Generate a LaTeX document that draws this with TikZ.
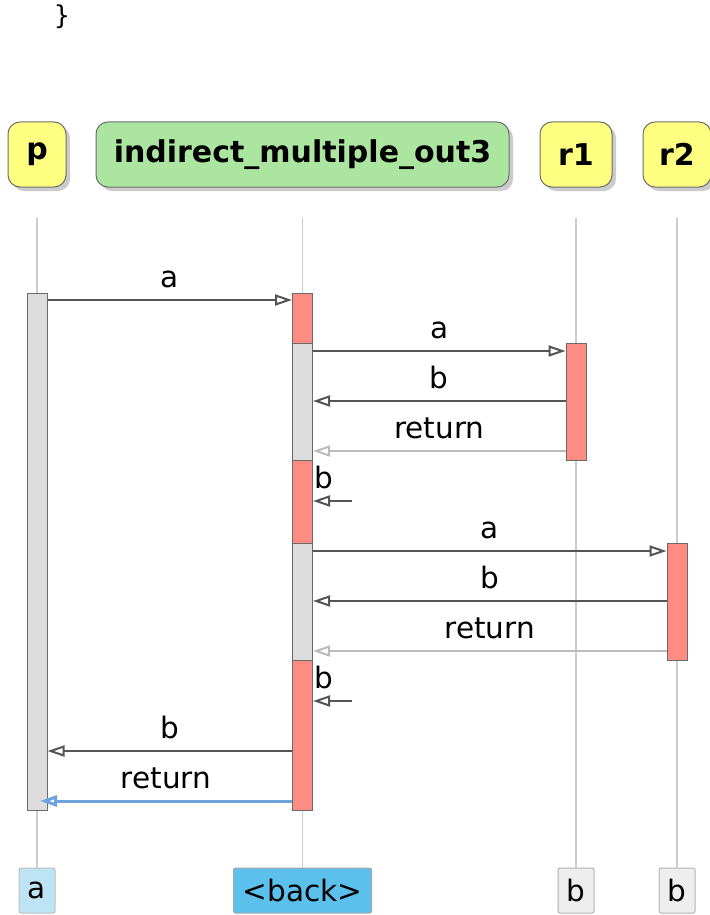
\documentclass[tikz,border=0pt]{standalone}
\usepackage{fontspec}
\setmainfont{DejaVu Sans}
\setmonofont{DejaVu Sans Mono}
\usepackage{xcolor}
\usetikzlibrary{positioning,arrows.meta,shadows,backgrounds}

\definecolor{kopfGelb}{HTML}{FEFE80}
\definecolor{kopfGruen}{HTML}{ABE5A0}
\definecolor{kopfRand}{HTML}{6E6E6E}
\definecolor{balkenRot}{HTML}{FF8C82}
\definecolor{balkenGrau}{HTML}{DDDDDD}
\definecolor{balkenRand}{HTML}{6A6A6A}
\definecolor{pfeilGrau}{HTML}{555555}
\definecolor{rueckGrau}{HTML}{BBBBBB}
\definecolor{rueckBlau}{HTML}{6FA3DE}
\definecolor{linieGrau}{HTML}{CCCCCC}
\definecolor{fussHell}{HTML}{BEE3F4}
\definecolor{fussBlau}{HTML}{5BC0EB}
\definecolor{fussGrau}{HTML}{EEEEEE}

\begin{document}
\begin{tikzpicture}[x=1pt, y=-1pt, node distance=30pt,
    every node/.style={font=\fontsize{29.5}{34}\selectfont},
    kopf/.style={draw=kopfRand, line width=1pt, rounded corners=12pt, minimum height=65pt, inner sep=0pt,
        font=\fontsize{30}{35}\selectfont\bfseries,
        drop shadow={shadow xshift=4pt, shadow yshift=-4pt, fill=black!40, opacity=.5}},
    fuss/.style={draw=black!30, line width=1pt, rounded corners=2pt, minimum height=45pt, minimum width=36pt, inner sep=2pt},
    balken/.style={draw=balkenRand, line width=1pt, minimum width=20pt, inner sep=0pt},
    lebenslinie/.style={draw=linieGrau, line width=1.3pt},
    nachricht/.style={draw=pfeilGrau, line width=2pt, -{Triangle[open, length=17pt, width=11pt]}},
    rueckgabe/.style={nachricht, draw=rueckGrau},
    beschriftung/.style={above=11pt, inner sep=0pt}]

    \useasboundingbox (0,0) rectangle (709,915);
    \fill[white] (0,0) rectangle (709,915);

    % Rest oben
    \node[font=\fontsize{26}{30}\selectfont\ttfamily] (klammer) at (62,17) {\}};

    % Teilnehmer
    \node[kopf, fill=kopfGelb, minimum width=58pt] (p) at (37,154.5) {p};
    \node[kopf, fill=kopfGruen, minimum width=413pt, right=29pt of p] (ind) {indirect\_multiple\_out3};
    \node[kopf, fill=kopfGelb, minimum width=72pt, right=30pt of ind] (r1) {r1};
    \node[kopf, fill=kopfGelb, minimum width=68pt, right=30pt of r1] (r2) {r2};

    % Fusszeile
    \node[fuss, fill=fussHell, draw=black!25] (pFuss) at (p |- 0,890.5) {a};
    \node[fuss, fill=fussBlau, draw=black!35, minimum width=138pt] (indFuss) at (ind |- 0,890.5) {<back>};
    \node[fuss, fill=fussGrau] (r1Fuss) at (r1 |- 0,890.5) {b};
    \node[fuss, fill=fussGrau] (r2Fuss) at (r2 |- 0,890.5) {b};

    % Lebenslinien
    \foreach \k in {p, ind, r1, r2} {
        \draw[lebenslinie] ([yshift=-30pt]\k.south) -- (\k Fuss.north);
    }

    % Aktivierungen
    \node[balken, fill=balkenGrau, minimum height=517pt] (pAkt) at (p |- 0,551.5) {};
    \node[balken, fill=balkenRot, minimum height=517pt] (indAkt) at (ind |- 0,551.5) {};
    \node[balken, fill=balkenGrau, minimum height=117pt] (indAktA) at (ind |- 0,401.5) {};
    \node[balken, fill=balkenGrau, minimum height=117pt] (indAktB) at (ind |- 0,601.5) {};
    \node[balken, fill=balkenRot, minimum height=117pt] (r1Akt) at (r1 |- 0,401.5) {};
    \node[balken, fill=balkenRot, minimum height=117pt] (r2Akt) at (r2 |- 0,601.5) {};

    % Nachrichten
    \draw[nachricht] (pAkt.east |- 0,300) -- node[beschriftung] (m1) {a} (indAkt.west |- 0,300);
    \draw[nachricht] (indAktA.east |- 0,351) -- node[beschriftung] (m2) {a} (r1Akt.west |- 0,351);
    \draw[nachricht] (r1Akt.west |- 0,401) -- node[beschriftung] (m3) {b} (indAktA.east |- 0,401);
    \draw[rueckgabe] (r1Akt.west |- 0,451) -- node[beschriftung] (m4) {return} (indAktA.east |- 0,451);

    \coordinate (selbstA) at (352,501);
    \draw[nachricht] (selbstA) -- (indAkt.east |- selbstA);
    \node[anchor=base west, inner sep=1pt] (m5) at (indAkt.east |- 0,488) {b};

    \draw[nachricht] (indAktB.east |- 0,551) -- node[beschriftung] (m6) {a} (r2Akt.west |- 0,551);
    \draw[nachricht] (r2Akt.west |- 0,601) -- node[beschriftung] (m7) {b} (indAktB.east |- 0,601);
    \draw[rueckgabe] (r2Akt.west |- 0,651) -- node[beschriftung] (m8) {return} (indAktB.east |- 0,651);

    \coordinate (selbstB) at (352,701);
    \draw[nachricht] (selbstB) -- (indAkt.east |- selbstB);
    \node[anchor=base west, inner sep=1pt] (m9) at (indAkt.east |- 0,688) {b};

    \draw[nachricht] (indAkt.west |- 0,751) -- node[beschriftung] (m10) {b} (pAkt.east |- 0,751);
    \coordinate (rueckEnde) at (40,801);
    \draw[nachricht, draw=rueckBlau, line width=3pt] (indAkt.west |- rueckEnde) -- node[beschriftung] (m11) {return} (rueckEnde);
\end{tikzpicture}
\end{document}
